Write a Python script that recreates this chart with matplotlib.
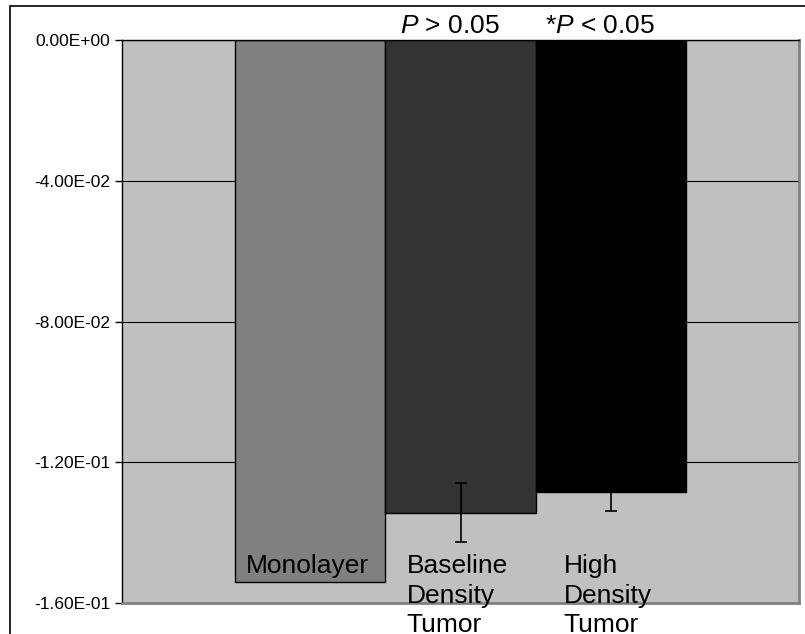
"""Bar chart: monolayer vs baseline / high density tumor."""
import numpy as np
import matplotlib
matplotlib.use("Agg")
import matplotlib.pyplot as plt
from matplotlib.patches import Rectangle

plt.rcParams["font.family"] = ["Liberation Sans", "DejaVu Sans"]
plt.rcParams["mathtext.fontset"] = "custom"
plt.rcParams["mathtext.rm"] = "Liberation Sans"
plt.rcParams["mathtext.it"] = "Liberation Sans:italic"

# data
labels = ["Monolayer", "Baseline\nDensity\nTumor", "High\nDensity\nTumor"]
values = [-0.154, -0.1343, -0.1284]
errors = [0.0, 0.0083, 0.0054]
p_labels = [None, "$P$ > 0.05", "*$P$ < 0.05"]
colors = ["#808080", "#333333", "#000000"]
yticks = [0.0, -0.04, -0.08, -0.12, -0.16]
ytick_labels = ["0.00E+00", "-4.00E-02", "-8.00E-02", "-1.20E-01", "-1.60E-01"]

fig = plt.figure(figsize=(8.05, 6.34), dpi=100)
ax = fig.add_axes([122 / 805, 1 - 603 / 634, 677 / 805, 563 / 634])
ax.set_facecolor("#C0C0C0")

x = np.arange(len(values))
ax.bar(x, values, width=1.0, color=colors, edgecolor="black", linewidth=1, zorder=2)

# error bars only where there is one
has_err = np.array(errors) > 0
ax.errorbar(x[has_err], np.array(values)[has_err], yerr=np.array(errors)[has_err],
            fmt="none", ecolor="black", elinewidth=1.2, capsize=4.5, capthick=1.2, zorder=3)

ax.set_xlim(-1.25, 3.25)
ax.set_ylim(-0.16, 0.0)
ax.set_xticks([])
ax.set_yticks(yticks)
ax.set_yticklabels(ytick_labels, fontsize=12.5)
ax.tick_params(axis="y", direction="out", length=5, width=1, pad=3.6)
ax.yaxis.grid(True, color="black", linewidth=0.8, zorder=1)
ax.set_axisbelow(True)

for side in ["left", "top"]:
    ax.spines[side].set_color("black")
    ax.spines[side].set_linewidth(1)
for side in ["right", "bottom"]:
    ax.spines[side].set_color("#808080")
    ax.spines[side].set_linewidth(2)

# category names sit at the base of each bar
for xi, lab in zip(x, labels):
    ax.text(xi - 0.02, -0.1462, lab, ha="center", va="top", multialignment="left",
            fontsize=19, linespacing=1.28, clip_on=False, zorder=4)

# significance above bars
for xi, pl in zip(x, p_labels):
    if pl:
        ax.text(xi - 0.07, 0.0005, pl, ha="center", va="bottom", fontsize=19,
                clip_on=False)

# outer frame of the figure (top and left edge visible)
fig.add_artist(Rectangle((10 / 805, -0.2), 1.2, 1.2 - 6 / 634, transform=fig.transFigure,
                         fill=False, edgecolor="black", linewidth=1.2))

fig.savefig("out.png", dpi=100)
